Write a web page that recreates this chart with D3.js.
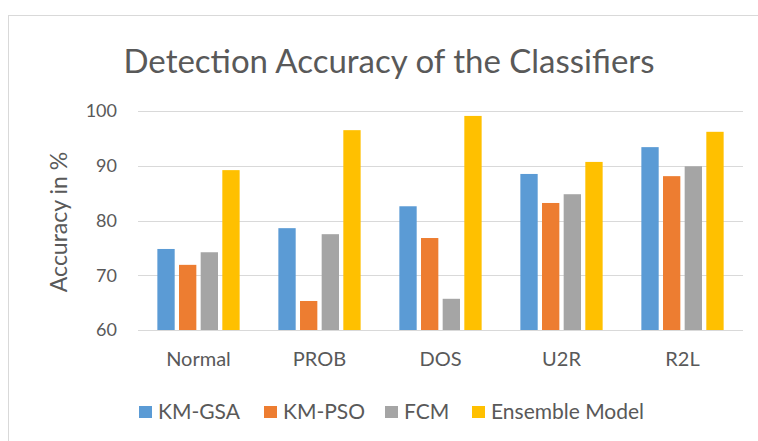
<!DOCTYPE html>
<html>
<head>
<meta charset="utf-8">
<script src="https://cdn.jsdelivr.net/npm/d3@7"></script>
<style>
body { margin: 0; background: #fff; }
text { font-family: Lato, "Open Sans", sans-serif; fill: #595959; }
</style>
</head>
<body>
<div id="chart"></div>
<script>
var categories = ["Normal", "PROB", "DOS", "U2R", "R2L"];
var seriesNames = ["KM-GSA", "KM-PSO", "FCM", "Ensemble Model"];
var kmGsa = [74.8, 78.6, 82.6, 88.5, 93.4];
var kmPso = [71.9, 65.3, 76.8, 83.2, 88.1];
var fcm = [74.2, 77.5, 65.7, 84.8, 89.9];
var ensemble = [89.2, 96.5, 99.1, 90.7, 96.2];
var yTicks = [60, 70, 80, 90, 100];
var colors = ["#5B9BD5", "#ED7D31", "#A5A5A5", "#FFC000"];

var allSeries = [kmGsa, kmPso, fcm, ensemble];

var svg = d3.select("#chart").append("svg")
    .attr("width", 758).attr("height", 441);

// chart border
svg.append("rect")
    .attr("x", 8.5).attr("y", 15.5)
    .attr("width", 800).attr("height", 500)
    .attr("fill", "none").attr("stroke", "#d9d9d9");

var x0 = d3.scaleBand().domain(categories).range([138, 743])
    .paddingInner(0.32).paddingOuter(0.16);
var x1 = d3.scaleBand().domain(seriesNames).range([0, x0.bandwidth()])
    .paddingInner(0.2);
var y = d3.scaleLinear().domain([60, 100]).range([330, 111]);

// gridlines
svg.append("g").selectAll("line").data(yTicks).enter().append("line")
    .attr("x1", 138).attr("x2", 743)
    .attr("y1", function(d) { return Math.round(y(d)) + 0.5; })
    .attr("y2", function(d) { return Math.round(y(d)) + 0.5; })
    .attr("stroke", "#d9d9d9").attr("stroke-width", 1);

// y tick labels
svg.append("g").selectAll("text").data(yTicks).enter().append("text")
    .attr("x", 117).attr("y", function(d) { return y(d); })
    .attr("dy", "0.35em")
    .attr("text-anchor", "end")
    .style("font-size", "18px")
    .text(function(d) { return d; });

// bars
var groups = svg.append("g").selectAll("g").data(categories).enter().append("g")
    .attr("transform", function(d) { return "translate(" + x0(d) + ",0)"; });

groups.selectAll("rect")
    .data(function(d, i) {
        return seriesNames.map(function(s, j) { return {name: s, value: allSeries[j][i], k: j}; });
    })
    .enter().append("rect")
    .attr("x", function(d) { return x1(d.name); })
    .attr("width", x1.bandwidth())
    .attr("y", function(d) { return y(d.value); })
    .attr("height", function(d) { return y(60) - y(d.value); })
    .attr("fill", function(d) { return colors[d.k]; });

// category labels
svg.append("g").selectAll("text").data(categories).enter().append("text")
    .attr("x", function(d) { return x0(d) + x0.bandwidth() / 2; })
    .attr("y", 366)
    .attr("text-anchor", "middle")
    .style("font-size", "20px")
    .text(function(d) { return d; });

// title
svg.append("text")
    .attr("x", 389).attr("y", 73)
    .attr("text-anchor", "middle")
    .style("font-size", "33px")
    .text("Detection Accuracy of the Classifiers");

// y axis title
svg.append("text")
    .attr("transform", "translate(67,222) rotate(-90)")
    .attr("text-anchor", "middle")
    .style("font-size", "23px")
    .text("Accuracy in %");

// legend
var legendX = [139, 264, 385, 472];
var legend = svg.append("g").selectAll("g").data(seriesNames).enter().append("g")
    .attr("transform", function(d, i) { return "translate(" + legendX[i] + ",406)"; });
legend.append("rect")
    .attr("width", 13).attr("height", 12)
    .attr("fill", function(d, i) { return colors[i]; });
legend.append("text")
    .attr("x", 19).attr("y", 6).attr("dy", "0.35em")
    .style("font-size", "21px")
    .text(function(d) { return d; });
</script>
</body>
</html>
